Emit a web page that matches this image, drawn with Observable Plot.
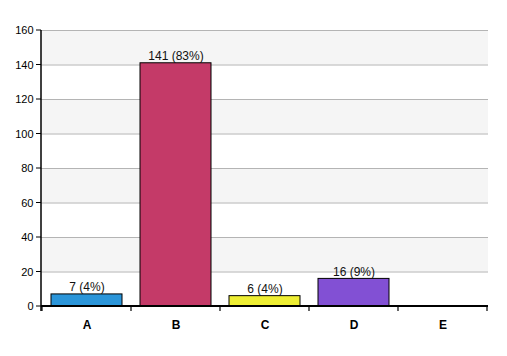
<!DOCTYPE html>
<html>
<head>
<meta charset="utf-8">
<script src="https://cdn.jsdelivr.net/npm/d3@7"></script>
<script src="https://cdn.jsdelivr.net/npm/@observablehq/plot@0.6"></script>
<style>
  html, body { margin: 0; padding: 0; background: #fff; }
  #chart { width: 507px; height: 356px; }
  svg { font-family: "Liberation Sans", Arial, sans-serif; }
</style>
</head>
<body>
<div id="chart"></div>
<script>
const categories = ["A", "B", "C", "D", "E"];
const counts = [7, 141, 6, 16, 0];
const percents = [4, 83, 4, 9, 0];
const colors = ["#2b95d9", "#c43a68", "#eeee33", "#8250d4", "#999999"];
const yTicks = [0, 20, 40, 60, 80, 100, 120, 140, 160];
const bandStarts = [20, 60, 100, 140];

const data = categories.map((c, i) => ({
  cat: c,
  value: counts[i],
  color: colors[i],
  label: `${counts[i]} (${percents[i]}%)`
}));
const labelled = data.filter(d => d.value > 0);
const bands = bandStarts.map(s => ({y1: s, y2: s + 20}));

const val = (v) => (typeof v === "function" ? v() : v);

const frameLines = (index, scales, values, dim) => {
  const x = scales.x, y = scales.y;
  const bw = val(x.bandwidth);
  const step = val(x.step);
  const gap = (step - bw) / 2;
  const xs = categories.map(c => x(c) - gap);
  xs.push(x(categories[categories.length - 1]) + bw + gap);
  const y0 = y(0);
  const g = d3.create("svg:g");
  for (const xv of xs) {
    g.append("line").attr("x1", xv).attr("x2", xv).attr("y1", y0).attr("y2", y0 + 5)
      .attr("stroke", "#000").attr("stroke-width", 1.2);
  }
  for (const t of yTicks) {
    g.append("line").attr("x1", dim.marginLeft - 5).attr("x2", dim.marginLeft)
      .attr("y1", y(t)).attr("y2", y(t)).attr("stroke", "#000").attr("stroke-width", 1);
  }
  g.append("line").attr("x1", dim.marginLeft).attr("x2", dim.marginLeft)
    .attr("y1", y(yTicks[yTicks.length - 1])).attr("y2", y0 + 5)
    .attr("stroke", "#000").attr("stroke-width", 1.5);
  g.append("line").attr("x1", dim.marginLeft).attr("x2", dim.width - dim.marginRight)
    .attr("y1", y0).attr("y2", y0).attr("stroke", "#000").attr("stroke-width", 2.2);
  return g.node();
};

const chart = Plot.plot({
  width: 507,
  height: 356,
  marginLeft: 41,
  marginRight: 19,
  marginTop: 30,
  marginBottom: 50,
  style: {fontFamily: '"Liberation Sans", Arial, sans-serif', background: "#fff"},
  x: {domain: categories, paddingInner: 0.2, paddingOuter: 0.1, label: null},
  y: {domain: [0, 160], label: null},
  marks: [
    Plot.rect(bands, {y1: "y1", y2: "y2", fill: "#f5f5f5"}),
    Plot.ruleY(yTicks.filter(t => t > 0), {stroke: "#b4b4b4", strokeWidth: 1}),
    Plot.barY(data, {x: "cat", y: "value", fill: "color", stroke: "#000", strokeWidth: 1}),
    Plot.text(labelled, {x: "cat", y: "value", text: "label", lineAnchor: "bottom", dy: -3, fontSize: 12, fill: "#111"}),
    Plot.axisY({ticks: yTicks, tickSize: 0, tickPadding: 8, fontSize: 11, fill: "#000"}),
    Plot.axisX({tickSize: 0, tickPadding: 14, fontSize: 12, fontWeight: "bold", fill: "#000"}),
    frameLines
  ]
});
document.getElementById("chart").append(chart);
</script>
</body>
</html>
